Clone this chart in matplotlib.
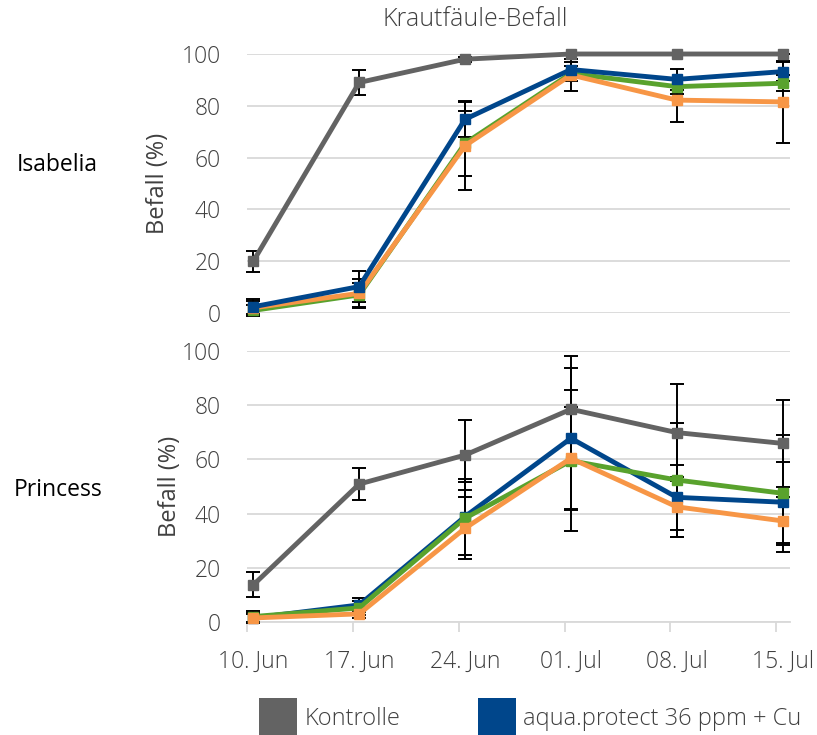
import matplotlib
matplotlib.use("Agg")
import matplotlib.pyplot as plt
from matplotlib.patches import Patch

plt.rcParams['font.family'] = ['Open Sans', 'DejaVu Sans']
plt.rcParams['font.weight'] = 'light'

dates = ['10. Jun', '17. Jun', '24. Jun', '01. Jul', '08. Jul', '15. Jul']
title = 'Krautfäule-Befall'
varieties = ['Isabelia', 'Princess']

# Isabelia: mean infestation (%) and error
isa_kontrolle = [20, 89, 98, 100, 100, 100]
isa_kontrolle_err = [4, 5, 1, 0, 0, 0]
isa_aqua = [2.4, 10.2, 74.8, 94, 90.2, 93.2]
isa_aqua_err = [3, 6, 7, 3, 4, 3.6]
isa_green = [1, 7, 65.5, 92.5, 87.4, 88.7]
isa_green_err = [2, 4.5, 12.5, 3, 3, 3]
isa_orange = [2, 7.6, 64.6, 91.9, 82.2, 81.5]
isa_orange_err = [2.5, 5.5, 17, 6, 8.6, 15.8]

# Princess
pri_kontrolle = [13.7, 50.9, 61.6, 78.5, 69.9, 65.9]
pri_kontrolle_err = [4.6, 6, 13, 19.5, 18, 16]
pri_aqua = [1.5, 6.3, 38.9, 67.8, 46, 44.2]
pri_aqua_err = [2, 2.5, 14, 26, 12, 15]
pri_green = [2, 5.2, 38.3, 59.5, 52.4, 47.5]
pri_green_err = [2, 2.5, 13.5, 26, 21, 21.5]
pri_orange = [1.5, 3, 34.6, 60.4, 42.5, 37.3]
pri_orange_err = [1.5, 1.5, 11.5, 19, 11, 9]

legend_labels = ['Kontrolle', 'aqua.protect 36 ppm + Cu']

GRAY = '#636363'
BLUE = '#00468B'
GREEN = '#59A22D'
ORANGE = '#F79646'
GRID = '#D9D9D9'
TXT = '#404040'

W, H = 817, 735
fig = plt.figure(figsize=(W / 100, H / 100), dpi=100)


def px_axes(left, top, right, bottom):
    return fig.add_axes([left / W, 1 - bottom / H, (right - left) / W, (bottom - top) / H])


ax_top = px_axes(247, 54, 790, 313)
ax_bot = px_axes(247, 351, 790, 622)

x = list(range(len(dates)))

panels = [
    (ax_top, [(isa_kontrolle, isa_kontrolle_err, GRAY),
              (isa_green, isa_green_err, GREEN),
              (isa_orange, isa_orange_err, ORANGE),
              (isa_aqua, isa_aqua_err, BLUE)]),
    (ax_bot, [(pri_kontrolle, pri_kontrolle_err, GRAY),
              (pri_aqua, pri_aqua_err, BLUE),
              (pri_green, pri_green_err, GREEN),
              (pri_orange, pri_orange_err, ORANGE)]),
]

for ax, series in panels:
    for vals, err, col in series:
        ax.errorbar(x, vals, yerr=err, fmt='none', ecolor='black',
                    elinewidth=1.4, capsize=5, capthick=1.4, zorder=3, clip_on=False)
    for vals, err, col in series:
        ax.plot(x, vals, color=col, lw=3.5, marker='s', ms=6.5,
                zorder=4, clip_on=False)

    ax.set_xlim(-0.06, 5.07)
    ax.set_ylim(0, 100)
    ax.set_yticks(range(0, 101, 20))
    ax.yaxis.grid(True, color=GRID, lw=1.3)
    ax.set_axisbelow(True)
    for s in ax.spines.values():
        s.set_visible(False)
    ax.tick_params(axis='y', length=0, pad=19, labelsize=16.5, labelcolor=TXT)
    ax.set_ylabel('Befall (%)', fontsize=17, color=TXT)

ax_top.set_xticks([])
ax_top.yaxis.set_label_coords(-0.142, 0.5)
ax_bot.yaxis.set_label_coords(-0.12, 0.5)

ax_bot.spines['bottom'].set_visible(True)
ax_bot.spines['bottom'].set_color(GRID)
ax_bot.spines['bottom'].set_linewidth(1.3)
ax_bot.set_xticks(x)
ax_bot.set_xticklabels(dates)
ax_bot.set_xticks([i - 0.06 for i in x], minor=True)
ax_bot.tick_params(axis='x', which='major', length=0, pad=20, labelsize=16.5, labelcolor=TXT)
ax_bot.tick_params(axis='x', which='minor', length=7, width=1.3, color=GRID)

fig.text(475 / W, 1 - 19 / H, title, ha='center', va='center', fontsize=18, color=TXT)
fig.text(57 / W, 1 - 165 / H, varieties[0], ha='center', va='center', fontsize=16.5,
         color='black', fontweight='normal')
fig.text(58 / W, 1 - 490 / H, varieties[1], ha='center', va='center', fontsize=16.5,
         color='black', fontweight='normal')

handles = [Patch(facecolor=GRAY), Patch(facecolor=BLUE)]
fig.legend(handles, legend_labels, loc='upper left', bbox_to_anchor=(259 / W, 1 - 698 / H),
           ncol=2, frameon=False, fontsize=17, handlelength=1.62, handleheight=2.2,
           handletextpad=0.3, columnspacing=3.3, labelcolor=TXT,
           borderpad=0, borderaxespad=0)

fig.savefig('out.png', dpi=100)
